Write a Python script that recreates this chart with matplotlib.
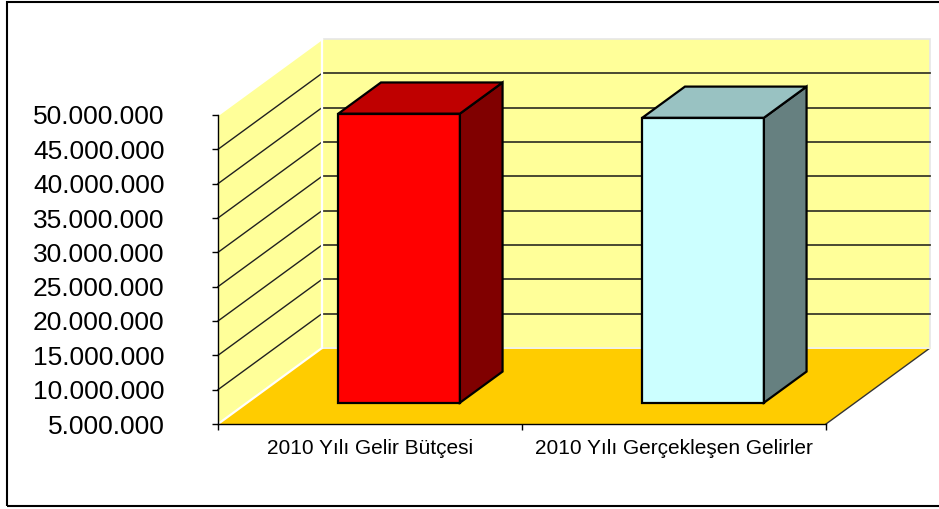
import numpy as np
import matplotlib
matplotlib.use('Agg')
import matplotlib.pyplot as plt
from matplotlib.patches import Polygon, Rectangle
from matplotlib.lines import Line2D
from matplotlib.transforms import IdentityTransform

# veriler
categories = ['2010 Yılı Gelir Bütçesi', '2010 Yılı Gerçekleşen Gelirler']
values = [47_100_000, 46_500_000]
front_colors = ['#FF0000', '#CCFFFF']
top_colors = ['#BF0000', '#99C2C2']
side_colors = ['#800000', '#668080']
y_ticks = np.arange(5_000_000, 50_000_001, 5_000_000)
y_labels = [f'{v:,.0f}'.replace(',', '.') for v in y_ticks]

plt.rcParams['font.family'] = ['Liberation Sans', 'DejaVu Sans']

W, H = 939, 509
fig = plt.figure(figsize=(W / 100, H / 100), dpi=100)
ax = fig.add_axes([218 / W, (H - 424) / H, 608 / W, 309 / H])
ax.set_xlim(-0.5, 1.5)
ax.set_ylim(y_ticks[0], y_ticks[-1])
ax.patch.set_visible(False)
ax.spines['top'].set_visible(False)
ax.spines['right'].set_visible(False)

# derinlik (piksel)
DX, DY = 104, 76
vmin, vmax = y_ticks[0], y_ticks[-1]


def proj(x, v, d):
    px, py = ax.transData.transform((x, v))
    return (px + DX * d, py + DY * d)


def face(pts, **kw):
    p = Polygon([proj(*q) for q in pts], closed=True,
                transform=IdentityTransform(), clip_on=False, **kw)
    ax.add_artist(p)


def line(p0, p1, **kw):
    a, b = proj(*p0), proj(*p1)
    ln = Line2D([a[0], b[0]], [a[1], b[1]], transform=IdentityTransform(),
                clip_on=False, **kw)
    ax.add_artist(ln)


# zemin ve duvarlar
face([(-0.5, vmin, 0), (1.5, vmin, 0), (1.5, vmin, 1), (-0.5, vmin, 1)],
     facecolor='#FFCC00', edgecolor='none', zorder=0.5)
line((1.5, vmin, 0), (1.5, vmin, 1), color='#333333', lw=1, zorder=0.55)
face([(-0.5, vmin, 1), (1.5, vmin, 1), (1.5, vmax, 1), (-0.5, vmax, 1)],
     facecolor='#FFFF99', edgecolor='#E6E6E6', lw=1.2, zorder=0.5)
face([(-0.5, vmin, 0), (-0.5, vmin, 1), (-0.5, vmax, 1), (-0.5, vmax, 0)],
     facecolor='#FFFF99', edgecolor='none', zorder=0.5)

# ızgara çizgileri
for v in y_ticks[1:-1]:
    line((-0.5, v, 1), (1.5, v, 1), color='#3A3A2A', lw=1.3, zorder=0.6)
    line((-0.5, v, 0), (-0.5, v, 1), color='#202020', lw=1, zorder=0.6)

# beyaz kenarlar
line((-0.5, vmin, 1), (-0.5, vmax, 1), color='white', lw=1.6, zorder=0.7)
line((-0.5, vmin, 1), (1.5, vmin, 1), color='#F4F4E0', lw=1.4, zorder=0.7)
line((-0.5, vmin, 0), (-0.5, vmin, 1), color='white', lw=1.6, zorder=0.7)
line((-0.5, vmax, 0), (-0.5, vmax, 1), color='white', lw=1.6, zorder=0.7)

# sütunlar
w, d0, d1 = 0.40, 0.28, 0.69
for i, v in enumerate(values):
    l, r = i - w / 2, i + w / 2
    kw = dict(edgecolor='black', lw=1.6, joinstyle='miter')
    face([(l, vmin, d0), (r, vmin, d0), (r, v, d0), (l, v, d0)],
         facecolor=front_colors[i], zorder=1, **kw)
    face([(r, vmin, d0), (r, vmin, d1), (r, v, d1), (r, v, d0)],
         facecolor=side_colors[i], zorder=1, **kw)
    face([(l, v, d0), (r, v, d0), (r, v, d1), (l, v, d1)],
         facecolor=top_colors[i], zorder=1, **kw)

# eksenler
ax.set_yticks(y_ticks, y_labels)
ax.tick_params(axis='y', direction='out', length=4.5, width=1, pad=34,
               labelsize=19, colors='black')
ax.set_xticks([-0.5, 0.5, 1.5], ['', '', ''])
ax.set_xticks([0, 1], categories, minor=True)
ax.tick_params(axis='x', which='major', direction='out', length=4, width=1)
ax.tick_params(axis='x', which='minor', length=0, pad=11, labelsize=15)
for s in ['left', 'bottom']:
    ax.spines[s].set_linewidth(1)
    ax.spines[s].set_zorder(3)

# dış çerçeve
fig.add_artist(Rectangle((6.5 / W, 3 / H), 1.0, 504.5 / H,
                         transform=fig.transFigure, fill=False,
                         edgecolor='black', lw=1.5))

fig.savefig('out.png', dpi=100, facecolor='white')
